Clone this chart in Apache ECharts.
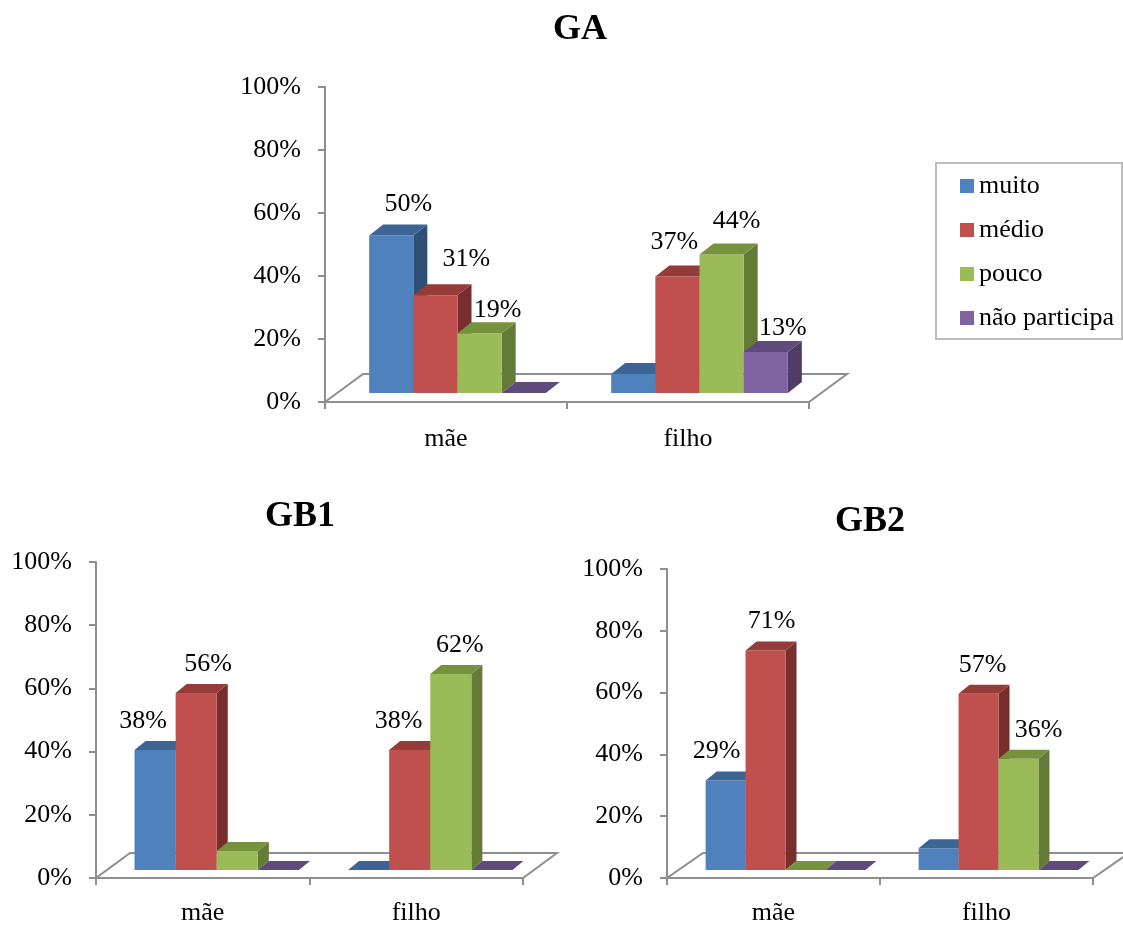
<!DOCTYPE html>
<html>
<head>
<meta charset="utf-8">
<script src="https://cdn.jsdelivr.net/npm/echarts@6/dist/echarts.min.js"></script>
<style>
  html, body { margin: 0; padding: 0; background: #ffffff; }
  #chart { width: 1123px; height: 926px; }
</style>
</head>
<body>
<div id="chart"></div>
<script>
// ---- data ----
const categories = ['mãe', 'filho'];
const seriesNames = ['muito', 'médio', 'pouco', 'não participa'];
const yTicks = [0, 20, 40, 60, 80, 100];

// GA
const gaMuito = [50, 6];
const gaMedio = [31, 37];
const gaPouco = [19, 44];
const gaNaoParticipa = [0, 13];

// GB1
const gb1Muito = [38, 0];
const gb1Medio = [56, 38];
const gb1Pouco = [6, 62];
const gb1NaoParticipa = [0, 0];

// GB2
const gb2Muito = [29, 7];
const gb2Medio = [71, 57];
const gb2Pouco = [0, 36];
const gb2NaoParticipa = [0, 0];

// ---- styling ----
const FONT = '"Liberation Serif", "Times New Roman", serif';
const TEXT_SIZE = 26;
const AXIS_GRAY = '#8e8e8e';
const frontColors = ['#4F81BD', '#C0504D', '#9BBB59', '#8064A2'];
const topColors   = ['#3C6494', '#953C3A', '#77923E', '#5F4A7C'];
const sideColors  = ['#2F4F77', '#772E2C', '#647A37', '#4E3D67'];

// Panel layout: grid box, bar plane shift, cluster width share,
// bar depth, floor depth and per-label nudges ([dx, dy] or null = no label)
const panels = [
  {
    title: 'GA', titlePos: [580, 30],
    values: [gaMuito, gaMedio, gaPouco, gaNaoParticipa],
    grid: { left: 325, top: 87, width: 484, height: 315 },
    plane: [11.5, -9], band: 0.73, depth: [14, -11], floor: [38, -28],
    catMargin: 24,
    labelNudge: [
      [[17, -20], null],
      [[31, -25], [-3, -23]],
      [[18, -12], [15, -22]],
      [null, [17, -13]]
    ]
  },
  {
    title: 'GB1', titlePos: [300, 517],
    values: [gb1Muito, gb1Medio, gb1Pouco, gb1NaoParticipa],
    grid: { left: 96, top: 562, width: 427, height: 320 },
    plane: [14, -8], band: 0.77, depth: [11, -9], floor: [34, -25],
    catMargin: 22,
    labelNudge: [
      [[-12, -20], null],
      [[12, -20], [-11, -20]],
      [null, [9, -20]],
      [null, null]
    ]
  },
  {
    title: 'GB2', titlePos: [870, 522],
    values: [gb2Muito, gb2Medio, gb2Pouco, gb2NaoParticipa],
    grid: { left: 667, top: 569, width: 426, height: 313 },
    plane: [12, -8], band: 0.75, depth: [11, -9], floor: [36, -25],
    catMargin: 22,
    labelNudge: [
      [[-9, -20], null],
      [[6, -20], [4, -20]],
      [null, [20, -20]],
      [null, null]
    ]
  }
];

// 3D-looking clustered bar: front face, side face and top face
function barRenderer(panel, sIdx) {
  return function (params, api) {
    const cat = api.value(0);
    const val = api.value(1);
    const base = api.coord([cat, 0]);
    const top = api.coord([cat, val]);
    const bandW = api.size([1, 0])[0];
    const clusterW = bandW * panel.band;
    const barW = clusterW / seriesNames.length;
    const x0 = base[0] - clusterW / 2 + sIdx * barW + panel.plane[0];
    const x1 = x0 + barW;
    const yb = base[1] + panel.plane[1];
    const yt = top[1] + panel.plane[1];
    const dx = panel.depth[0], dy = panel.depth[1];
    const children = [];
    if (val > 0) {
      children.push({
        type: 'polygon',
        shape: { points: [[x1, yt], [x1 + dx, yt + dy], [x1 + dx, yb + dy], [x1, yb]] },
        style: { fill: sideColors[sIdx] }
      });
      children.push({
        type: 'rect',
        shape: { x: x0, y: yt, width: barW, height: yb - yt },
        style: { fill: frontColors[sIdx] }
      });
    }
    children.push({
      type: 'polygon',
      shape: { points: [[x0, yt], [x1, yt], [x1 + dx, yt + dy], [x0 + dx, yt + dy]] },
      style: { fill: topColors[sIdx] }
    });
    const nudge = panel.labelNudge[sIdx][cat];
    if (nudge) {
      children.push({
        type: 'text',
        z2: 10,
        x: (x0 + x1) / 2 + nudge[0],
        y: yt + dy + nudge[1],
        style: {
          text: val + '%',
          fill: '#000',
          font: TEXT_SIZE + 'px ' + FONT,
          align: 'center',
          verticalAlign: 'middle'
        }
      });
    }
    return { type: 'group', children: children };
  };
}

// Floor parallelogram under the bars
function floorRenderer(panel) {
  return function (params, api) {
    const cs = params.coordSys;
    const fx = panel.floor[0], fy = panel.floor[1];
    const yb = cs.y + cs.height;
    return {
      type: 'polygon',
      shape: { points: [[cs.x, yb], [cs.x + cs.width, yb], [cs.x + cs.width + fx, yb + fy], [cs.x + fx, yb + fy]] },
      style: { fill: 'none', stroke: AXIS_GRAY, lineWidth: 2 }
    };
  };
}

const grids = [], xAxes = [], yAxes = [], series = [], graphics = [];

panels.forEach(function (panel, p) {
  grids.push(Object.assign({ containLabel: false }, panel.grid));
  xAxes.push({
    type: 'category',
    gridIndex: p,
    data: categories,
    axisLine: { show: true, lineStyle: { color: AXIS_GRAY, width: 2 } },
    axisTick: { show: true, length: 7, lineStyle: { color: AXIS_GRAY, width: 2 } },
    axisLabel: { color: '#000', fontFamily: FONT, fontSize: TEXT_SIZE, margin: panel.catMargin },
    splitLine: { show: false }
  });
  yAxes.push({
    type: 'value',
    gridIndex: p,
    min: yTicks[0],
    max: yTicks[yTicks.length - 1],
    interval: yTicks[1] - yTicks[0],
    axisLine: { show: true, lineStyle: { color: AXIS_GRAY, width: 2 } },
    axisTick: { show: true, length: 7, lineStyle: { color: AXIS_GRAY, width: 2 } },
    axisLabel: { color: '#000', fontFamily: FONT, fontSize: TEXT_SIZE, margin: 24, formatter: '{value}%' },
    splitLine: { show: false }
  });
  series.push({
    type: 'custom',
    name: 'floor-' + panel.title,
    xAxisIndex: p,
    yAxisIndex: p,
    z: 1,
    silent: true,
    renderItem: floorRenderer(panel),
    data: [[0, 0]]
  });
  seriesNames.forEach(function (name, s) {
    series.push({
      type: 'custom',
      name: name,
      xAxisIndex: p,
      yAxisIndex: p,
      z: 2,
      itemStyle: { color: frontColors[s] },
      renderItem: barRenderer(panel, s),
      encode: { x: 0, y: 1 },
      data: panel.values[s].map(function (v, i) { return [i, v]; })
    });
  });
  graphics.push({
    type: 'text',
    x: panel.titlePos[0],
    y: panel.titlePos[1],
    style: {
      text: panel.title,
      fill: '#000',
      font: 'bold 36px ' + FONT,
      align: 'center',
      verticalAlign: 'middle'
    }
  });
});

const chart = echarts.init(document.getElementById('chart'), null, { renderer: 'canvas' });
chart.setOption({
  animation: false,
  backgroundColor: '#ffffff',
  grid: grids,
  xAxis: xAxes,
  yAxis: yAxes,
  series: series,
  graphic: graphics,
  legend: {
    data: seriesNames,
    orient: 'vertical',
    left: 936,
    top: 163,
    padding: [10, 8, 8, 24],
    itemGap: 18,
    itemWidth: 14,
    itemHeight: 14,
    itemStyle: { borderWidth: 0 },
    icon: 'rect',
    borderColor: '#bdbdbd',
    borderWidth: 2,
    textStyle: { color: '#000', fontFamily: FONT, fontSize: TEXT_SIZE, padding: [0, 0, 0, 0] },
    selectedMode: false
  }
});
</script>
</body>
</html>
